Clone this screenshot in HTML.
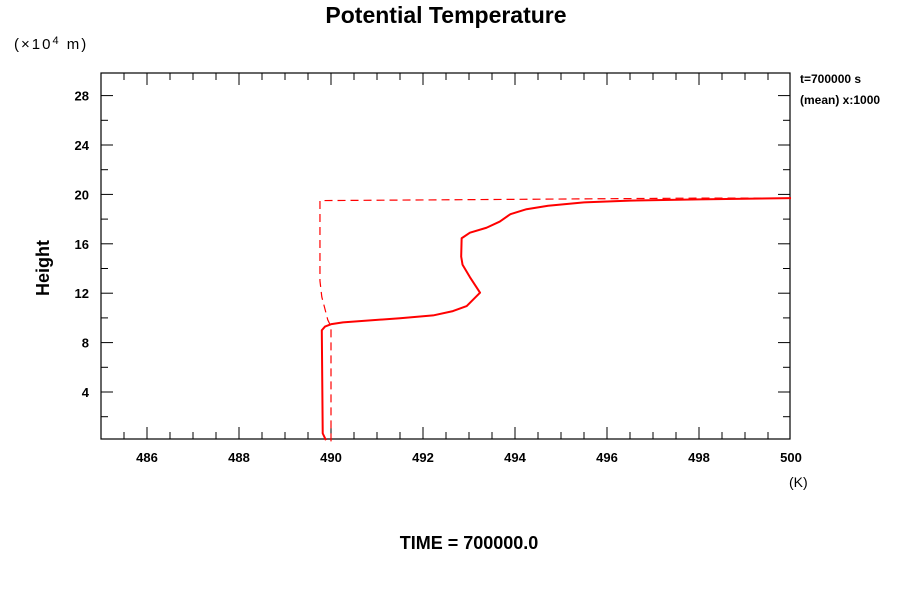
<!DOCTYPE html>
<html><head><meta charset="utf-8"><style>
body{margin:0;background:#fff;}
svg text{font-family:"Liberation Sans",sans-serif;}
</style></head><body>
<svg id="chart" width="900" height="600" xmlns="http://www.w3.org/2000/svg">
<text x="446" y="23" font-size="23" font-weight="bold" text-anchor="middle">Potential Temperature</text>
<text x="14" y="49" font-size="15" letter-spacing="2">(×10<tspan font-size="11" dy="-5">4</tspan><tspan dy="5"> m)</tspan></text>
<text transform="translate(49,268) rotate(-90)" font-size="18" font-weight="bold" text-anchor="middle">Height</text>
<text x="789" y="487" font-size="14">(K)</text>
<text x="469" y="549" font-size="18" font-weight="bold" text-anchor="middle">TIME = 700000.0</text>
<text x="800" y="83" font-size="12" font-weight="bold">t=700000 s</text>
<text x="800" y="104" font-size="12" font-weight="bold">(mean) x:1000</text>
<g id="axes"></g>
<g id="series"></g>
</svg>
<script>
const xTickLabels=[486,488,490,492,494,496,498,500];
const yTickLabels=[4,8,12,16,20,24,28];
const solidX=[489.89,489.82,489.8,489.87,490.01,490.26,491.5,492.22,492.65,492.95,493.24,493.02,492.86,492.83,492.84,493.02,493.38,493.67,493.9,494.25,494.72,495.5,496.5,498,500];
const solidY=[0.1,0.65,9.0,9.3,9.5,9.64,9.97,10.2,10.55,10.96,12.04,13.3,14.3,14.96,16.45,16.9,17.3,17.8,18.4,18.8,19.08,19.35,19.5,19.6,19.7];
const dashX=[490.0,490.0,489.93,489.8,489.76,489.76,492,494,496,498,500];
const dashY=[0.0,9.3,9.84,11.7,13,19.5,19.55,19.6,19.65,19.7,19.7];
const L=101,R=790,T=73,B=439;
const X=v=>L+(v-485)*46;
const Y=v=>441.4-v*12.35;
const NS="http://www.w3.org/2000/svg";
function mk(t,a,p){const e=document.createElementNS(NS,t);for(const k in a)e.setAttribute(k,a[k]);p.appendChild(e);return e;}
const ax=document.getElementById('axes');
const fr=mk('rect',{x:L,y:T,width:R-L,height:B-T,fill:'none',stroke:'#000','stroke-width':1.2},ax);


for(let v=485.5;v<500;v+=0.5){
  const major=Math.abs(v/2-Math.round(v/2))<1e-6;
  const len=major?12:7;
  const t1=mk('line',{x1:X(v),x2:X(v),y1:B,y2:B-len,stroke:'#000'},ax);
  
  
  const t2=mk('line',{x1:X(v),x2:X(v),y1:T,y2:T+len,stroke:'#000'},ax);
  
  
}
xTickLabels.forEach(v=>{
  const t=mk('text',{x:X(v),y:462,'font-size':13,'font-weight':'bold','text-anchor':'middle'},ax);t.textContent=v;
  
  
});
for(let v=2;v<30;v+=2){
  const major=v%4===0;const len=major?12:7;
  const t1=mk('line',{x1:L,x2:L+len,y1:Y(v),y2:Y(v),stroke:'#000'},ax);
  
  
  const t2=mk('line',{x1:R,x2:R-len,y1:Y(v),y2:Y(v),stroke:'#000'},ax);
  
  
}
yTickLabels.forEach(v=>{
  const t=mk('text',{x:89,y:Y(v)+5,'font-size':13,'font-weight':'bold','text-anchor':'end'},ax);t.textContent=v;
  
  
});
const se=document.getElementById('series');
const dp=mk('polyline',{points:dashX.map((x,i)=>X(x)+','+Y(dashY[i])).join(' '),fill:'none',stroke:'#f00','stroke-width':1.2,'stroke-dasharray':'8,5'},se);


const sp=mk('polyline',{points:solidX.map((x,i)=>X(x)+','+Y(solidY[i])).join(' '),fill:'none',stroke:'#f00','stroke-width':2,'stroke-linejoin':'round'},se);


</script>
</body></html>
